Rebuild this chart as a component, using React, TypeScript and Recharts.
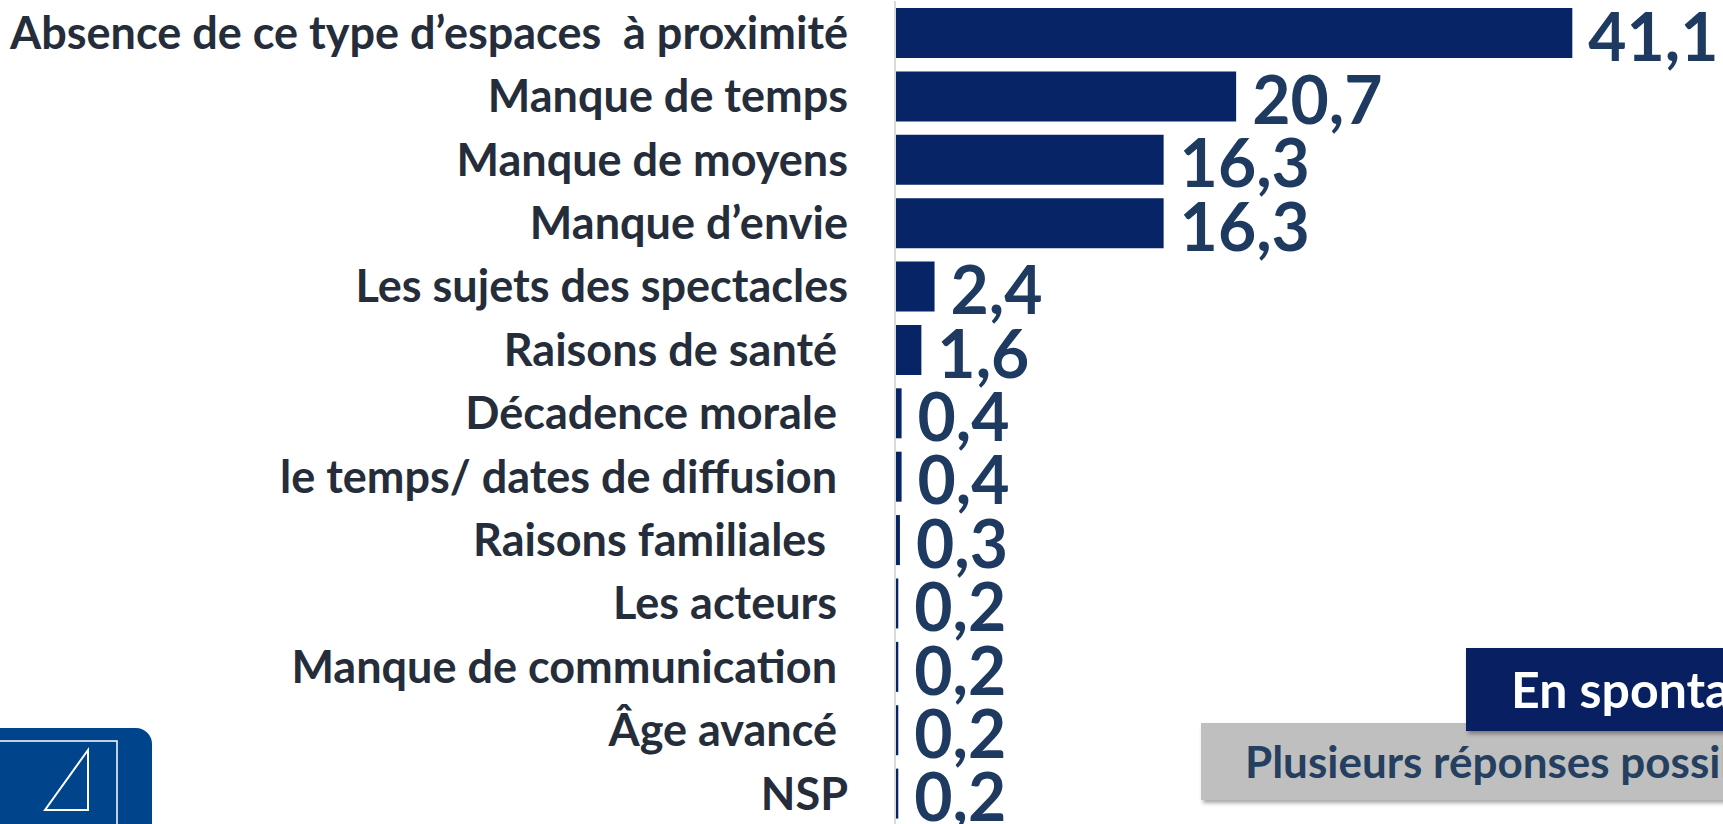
import React from 'react';
import { BarChart, Bar, XAxis, YAxis, LabelList } from 'recharts';

const categories: string[] = [
  'Absence de ce type d’espaces  à proximité',
  'Manque de temps',
  'Manque de moyens',
  'Manque d’envie',
  'Les sujets des spectacles',
  'Raisons de santé ',
  'Décadence morale ',
  'le temps/ dates de diffusion ',
  'Raisons familiales  ',
  'Les acteurs ',
  'Manque de communication ',
  'Âge avancé ',
  'NSP',
];

const values: number[] = [41.1, 20.7, 16.3, 16.3, 2.4, 1.6, 0.4, 0.4, 0.3, 0.2, 0.2, 0.2, 0.2];

const badgeTitle = 'En spontané';
const badgeSubtitle = 'Plusieurs réponses possibles';

const data = categories.map((name, i) => ({ name, value: values[i] }));

const BAR_COLOR = '#072566';
const VALUE_COLOR = '#1e3a60';
const LABEL_COLOR = '#252d3b';
const FONT = 'Lato, "Open Sans", sans-serif';

const CategoryTick = (props: any) => {
  const { x, y, payload } = props;
  return (
    <text
      x={x}
      y={y}
      dy="0.36em"
      textAnchor="end"
      fill={LABEL_COLOR}
      fontFamily={FONT}
      fontWeight={700}
      fontSize={45}
      style={{ whiteSpace: 'pre' }}
    >
      {payload.value}
    </text>
  );
};

const ValueLabel = (props: any) => {
  const { x, y, width, height, value } = props;
  return (
    <text
      x={x + width + 16}
      y={y + height / 2}
      dy="0.42em"
      textAnchor="start"
      fill={VALUE_COLOR}
      fontFamily={FONT}
      fontWeight={700}
      fontSize={66}
    >
      {Number(value).toFixed(1).replace('.', ',')}
    </text>
  );
};

export default function App() {
  return (
    <div
      style={{
        position: 'fixed',
        left: 0,
        top: 0,
        width: 1723,
        height: 824,
        overflow: 'hidden',
        background: '#ffffff',
      }}
    >
      <BarChart
        width={1723}
        height={825}
        data={data}
        layout="vertical"
        margin={{ top: 1, right: 4, bottom: 0, left: 0 }}
        barSize={50}
      >
        <XAxis type="number" domain={[0, 50]} hide />
        <YAxis
          type="category"
          dataKey="name"
          width={895}
          axisLine={{ stroke: '#d9d9d9', strokeWidth: 2 }}
          tickLine={false}
          tickSize={0}
          tickMargin={47}
          interval={0}
          tick={<CategoryTick />}
        />
        <Bar dataKey="value" fill={BAR_COLOR} isAnimationActive={false}>
          <LabelList dataKey="value" content={<ValueLabel />} />
        </Bar>
      </BarChart>

      {/* subtitle badge (grey) */}
      <div
        style={{
          position: 'absolute',
          left: 1201,
          top: 723,
          width: 600,
          height: 77,
          background: '#bfbfbf',
          boxShadow: '2px 3px 4px rgba(0,0,0,0.35)',
          fontFamily: FONT,
          fontWeight: 700,
          fontSize: 44,
          color: '#243f60',
          lineHeight: '77px',
          paddingLeft: 44,
          boxSizing: 'border-box',
          whiteSpace: 'nowrap',
        }}
      >
        {badgeSubtitle}
      </div>
      {/* title badge (navy) */}
      <div
        style={{
          position: 'absolute',
          left: 1466,
          top: 648,
          width: 320,
          height: 83,
          background: '#082062',
          boxShadow: '2px 3px 4px rgba(0,0,0,0.35)',
          fontFamily: FONT,
          fontWeight: 700,
          fontSize: 50,
          color: '#ffffff',
          lineHeight: '83px',
          paddingLeft: 45,
          boxSizing: 'border-box',
          whiteSpace: 'nowrap',
        }}
      >
        {badgeTitle}
      </div>

      {/* logo */}
      <svg
        width={160}
        height={100}
        style={{ position: 'absolute', left: 0, top: 728 }}
      >
        <path d="M -20 0 H 136 A 16 16 0 0 1 152 16 V 120 H -20 Z" fill="#00458c" />
        <rect x={-10} y={13} width={127} height={120} fill="none" stroke="#ffffff" strokeWidth={1.5} />
        <polygon points="88,22 45,82 88,82" fill="none" stroke="#ffffff" strokeWidth={2} />
      </svg>
    </div>
  );
}
